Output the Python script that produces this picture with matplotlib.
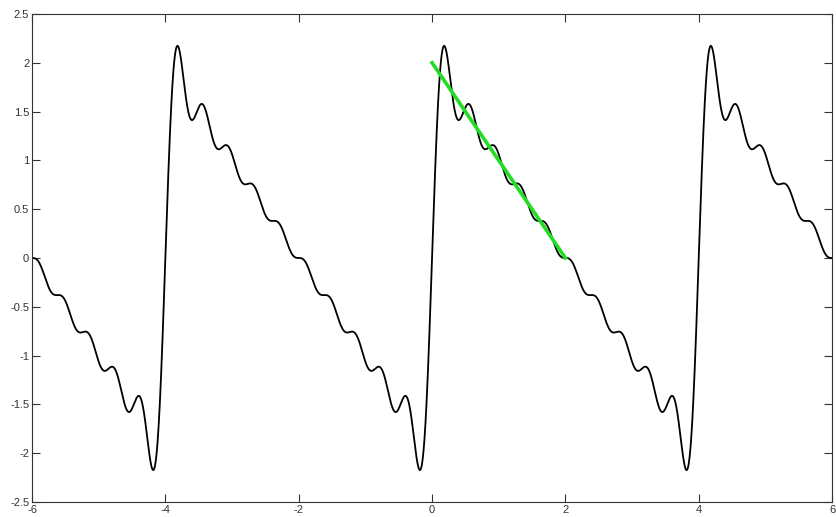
import numpy as np
import matplotlib
matplotlib.use('Agg')
import matplotlib.pyplot as plt

plt.rcParams['font.family'] = ['Liberation Sans', 'DejaVu Sans']

# sine-series amplitudes of the sawtooth (period 4), first 10 harmonics
harmonics = [1, 2, 3, 4, 5, 6, 7, 8, 9, 10]
amplitudes = [1.2732, 0.6366, 0.4244, 0.3183, 0.2546, 0.2122, 0.1819, 0.1592, 0.1415, 0.1273]
period = 4.0

# green reference segment f(x) = 2 - x on [0, 2]
line_x = [0, 2]
line_y = [2, 0]

xticks = [-6, -4, -2, 0, 2, 4, 6]
yticks = [-2.5, -2, -1.5, -1, -0.5, 0, 0.5, 1, 1.5, 2, 2.5]

x = np.linspace(-6, 6, 3000)
y = np.zeros_like(x)
for n, b in zip(harmonics, amplitudes):
    y += b * np.sin(2 * np.pi * n * x / period)

fig = plt.figure(figsize=(8.36, 5.17), dpi=100)
ax = fig.add_axes([0.0383, 0.029, 0.957, 0.944])

ax.plot(x, y, color='black', lw=1.3)
ax.plot(line_x, line_y, color='#22dd22', lw=2.6)

ax.set_xlim(-6, 6)
ax.set_ylim(-2.5, 2.5)
ax.set_xticks(xticks)
ax.set_yticks(yticks)
ax.set_xticklabels([str(v) for v in xticks])
ax.set_yticklabels(['%g' % v for v in yticks])
ax.tick_params(direction='in', length=5.5, width=0.8, labelsize=8,
               top=True, right=True, pad=2, colors='#333333')
for s in ax.spines.values():
    s.set_linewidth(0.8)
    s.set_color('#333333')

fig.savefig('out.png', dpi=100)
